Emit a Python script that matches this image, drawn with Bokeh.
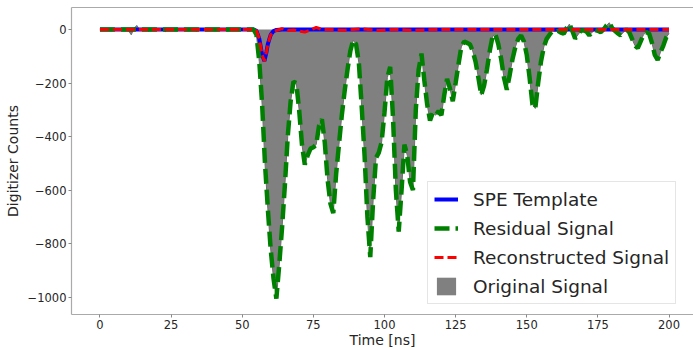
import numpy as np
from bokeh.plotting import figure
from bokeh.models import Range1d, FixedTicker, LinearAxis, Legend, LegendItem
from bokeh.embed import file_html
from bokeh.resources import INLINE

# ---------------- data ----------------
time_ns = np.arange(0, 201)  # 1 ns samples, 0..200

original_signal = [
    0, 2, -3, 1, 0, -2, 3, -1, 0, 2,                          # 0-9
    -4, -20, 5, 15, -3, 0, 2, -6, 1, -3,                      # 10-19
    4, -2, 0, -8, 3, 0, -5, 6, -2, 1,                         # 20-29
    -3, 0, 4, -2, -6, 2, 0, 3, -1, -4,                        # 30-39
    2, 0, 1, -3, 2, 0, -1, 3, -2, 0,                          # 40-49
    1, -1, 0, 2, 0, -20, -120, -280, -500, -670,              # 50-59
    -820, -930, -1005, -880, -740, -580, -400, -270, -195, -200,  # 60-69
    -300, -430, -505, -470, -445, -440, -430, -360, -335, -420,   # 70-79
    -560, -650, -686, -540, -430, -320, -230, -150, -80, -40,     # 80-89
    -55, -125, -290, -470, -700, -850, -640, -480, -460, -420,    # 90-99
    -310, -180, -140, -330, -600, -755, -600, -430, -470, -570,   # 100-109
    -600, -300, -150, -90, -190, -280, -340, -310, -320, -305,    # 110-119
    -320, -245, -185, -220, -268, -200, -130, -65, -45, -50,      # 120-129
    -55, -80, -120, -180, -245, -210, -150, -80, -25, -18,        # 130-139
    -55, -110, -180, -225, -170, -110, -65, -35, -22, -45,        # 140-149
    -95, -180, -280, -295, -200, -120, -65, -35, -20, -5,         # 150-159
    -8, -5, -12, -16, 5, 20, -5, -34, -20, -5,                    # 160-169
    -3, -8, -22, -10, -2, -5, -10, 0, 15, 25,                     # 170-179
    5, -5, -15, -22, -10, 0, -10, -35, -60, -70,                  # 180-189
    -45, -20, -10, -15, -50, -95, -114, -85, -60, -30,            # 190-199
    -15,                                                          # 200
]
residual_start_ns = 55  # residual follows the signal once the fitted pulse is removed

spe_t = [0, 54, 55, 56, 57, 57.8, 58.5, 59, 60, 61, 62, 64, 200]
spe_v = [0, 0, -5, -35, -95, -118, -85, -55, -20, -6, -2, 0, 0]

rec_t = [0, 54, 55, 56, 57, 57.8, 58.5, 59, 60, 61, 62, 64, 66, 68, 70, 72, 74, 76,
         78, 80, 86, 92, 98, 104, 110, 120, 200]
rec_v = [0, 0, -5, -35, -95, -118, -85, -55, -20, -8, -4, 3, -4, -2, -6, -10, -2, 8,
         0, 0, -3, 2, -4, 0, -3, 0, 0]

x_ticks = [0, 25, 50, 75, 100, 125, 150, 175, 200]
x_tick_labels = ["0", "25", "50", "75", "100", "125", "150", "175", "200"]
y_ticks = [0, -200, -400, -600, -800, -1000]
y_tick_labels = ["0", "\u2212200", "\u2212400", "\u2212600", "\u2212800", "\u22121000"]

original = np.array(original_signal, dtype=float)
residual = np.where(time_ns >= residual_start_ns, original, 0.0)

# ---------------- figure ----------------
FONT = "DejaVu Sans"
TXT = "#262626"
SPINE = "#aaaaaa"

p = figure(width=693, height=350, output_backend="svg", toolbar_location=None,
           x_range=Range1d(-10, 208.6), y_range=Range1d(-1064.5, 82),
           min_border_left=71, min_border_right=0, min_border_top=7,
           min_border_bottom=32)
p.outline_line_color = None
p.xgrid.visible = False
p.ygrid.visible = False
p.background_fill_color = "white"
p.border_fill_color = "white"

area = p.varea(x=time_ns, y1=0, y2=original, fill_color="#808080")
p.line(time_ns, original, line_color="#6e6e6e", line_width=1)
spe = p.line(spe_t, spe_v, line_color="#0000ff", line_width=4)
res = p.line(time_ns, residual, line_color="#008000", line_width=4.5, line_dash="15 6")
rec = p.line(rec_t, rec_v, line_color="#ff0000", line_width=3, line_dash="9 4")

# axes
for ax in (p.xaxis[0], p.yaxis[0]):
    ax.axis_line_color = SPINE
    ax.axis_line_width = 1.2
    ax.major_tick_line_color = "#888888"
    ax.major_tick_out = 3
    ax.major_tick_in = 0
    ax.minor_tick_line_color = None
    ax.major_label_text_font = FONT
    ax.major_label_text_font_size = "11.5px"
    ax.major_label_text_color = TXT
    ax.axis_label_text_font = FONT
    ax.axis_label_text_font_size = "14px"
    ax.axis_label_text_font_style = "normal"
    ax.axis_label_text_color = TXT

p.xaxis.ticker = FixedTicker(ticks=x_ticks)
p.xaxis.major_label_overrides = dict(zip(x_ticks, x_tick_labels))
p.xaxis.major_label_standoff = 2
p.xaxis.axis_label = "Time [ns]"
p.xaxis.axis_label_standoff = 0

p.yaxis.ticker = FixedTicker(ticks=y_ticks)
p.yaxis.major_label_overrides = dict(zip(y_ticks, y_tick_labels))
p.yaxis.major_label_standoff = 2
p.yaxis.axis_label = "Digitizer Counts"
p.yaxis.axis_label_standoff = 4

top = LinearAxis(ticker=FixedTicker(ticks=[]), major_tick_out=0, major_tick_in=0,
                 minor_tick_out=0, minor_tick_in=0, major_label_standoff=0,
                 major_label_text_font_size="0px", axis_line_color=SPINE,
                 axis_line_width=1.2)
p.add_layout(top, "above")

legend = Legend(items=[
    LegendItem(label="SPE Template", renderers=[spe]),
    LegendItem(label="Residual Signal", renderers=[res]),
    LegendItem(label="Reconstructed Signal", renderers=[rec]),
    LegendItem(label="Original Signal", renderers=[area]),
], location=(356, 10), label_text_font=FONT, label_text_font_size="18.5px",
   label_text_color=TXT, glyph_width=24, glyph_height=22, label_height=22,
   spacing=7, padding=6, label_standoff=15, border_line_color="#cccccc",
   border_line_width=1, background_fill_color="white", background_fill_alpha=0.8,
   margin=0)
p.add_layout(legend)

open("out.html", "w").write(file_html(p, INLINE))
